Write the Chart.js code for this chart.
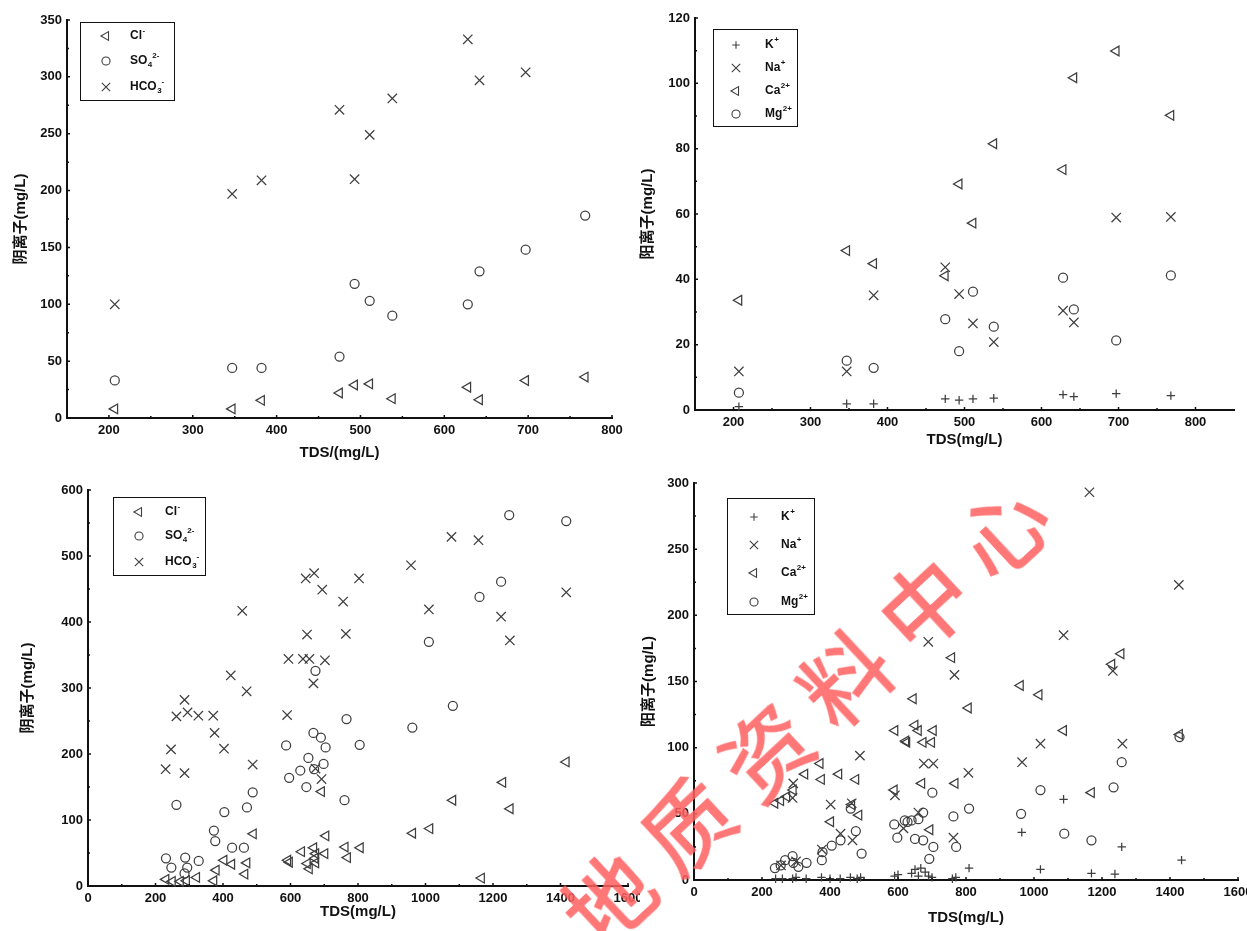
<!DOCTYPE html>
<html>
<head>
<meta charset="utf-8">
<title>TDS 与阴、阳离子关系图</title>
<script src="https://cdn.jsdelivr.net/npm/chart.js@4.4.1/dist/chart.umd.min.js"></script>
<style>
  html, body { margin: 0; padding: 0; background: #fff; }
  body { width: 1247px; height: 931px; position: relative; overflow: hidden; }
  canvas { position: absolute; }
  #wm {
    position: absolute; left: 475px; top: 655px; width: 670px; height: 100px;
    line-height: 100px; text-align: center; white-space: nowrap;
    font-family: 'Noto Sans CJK SC', sans-serif; font-size: 88px; font-weight: 500;
    letter-spacing: 20px; color: rgba(255, 95, 95, 0.85);
    transform: rotate(-43deg); pointer-events: none;
  }
</style>
</head>
<body>
<canvas id="c1" width="625" height="462" style="left:0;top:0"></canvas>
<canvas id="c2" width="617" height="462" style="left:630px;top:0"></canvas>
<canvas id="c3" width="640" height="461" style="left:0;top:470px"></canvas>
<canvas id="c4" width="607" height="466" style="left:640px;top:465px"></canvas>
<div id="wm">地质资料中心</div>
<script>
Chart.defaults.font.family = "'Liberation Sans', Arial, 'Noto Sans CJK SC', sans-serif";
Chart.defaults.color = '#111';

// ---- top row: 11 samples ----
const tdsTop = [207, 347, 382, 475, 493, 511, 538, 628, 642, 697, 768];
const clTop = [8, 8, 15.5, 22, 29, 30, 17, 27, 16, 33, 36];
const so4Top = [33, 44, 44, 54, 118, 103, 90, 100, 129, 148, 178];
const hco3Top = [100, 197, 209, 271, 210, 249, 281, 333, 297, 304, null];
const kTop = [1.0, 1.9, 1.9, 3.4, 3.0, 3.4, 3.6, 4.7, 4.1, 5.0, 4.4];
const naTop = [11.8, 11.8, 35.1, 43.7, 35.5, 26.5, 20.8, 30.4, 26.8, 58.9, 59.1];
const caTop = [33.6, 48.8, 44.8, 41.1, 69.2, 57.2, 81.5, 73.6, 101.7, 109.9, 90.2];
const mgTop = [5.3, 15.1, 12.9, 27.8, 18, 36.2, 25.5, 40.5, 30.8, 21.3, 41.2];

// ---- bottom left: anions ----
const clTds = [231, 250, 274, 292, 322, 373, 380, 403, 426, 465, 471, 490, 592, 597, 633, 650, 656, 669, 673, 675, 675, 702, 705, 692, 762, 769, 807, 962, 1013, 1081, 1166, 1229, 1251, 1417];
const clVal = [10, 7, 7, 8, 13, 8, 24, 39, 33, 18, 35, 79, 39, 36, 52, 34, 26, 58, 42, 35, 49, 49, 76, 143, 59, 43, 58, 80, 87, 130, 12, 157, 117, 188];
const so4Tds = [231, 247, 262, 288, 294, 286, 328, 373, 377, 404, 427, 462, 471, 488, 587, 596, 629, 647, 653, 668, 674, 690, 704, 698, 670, 766, 805, 760, 961, 1010, 1081, 1160, 1224, 1248, 1417];
const so4Val = [42, 28, 123, 43, 28, 19, 38, 84, 68, 112, 58, 58, 119, 142, 213, 164, 175, 150, 194, 232, 326, 225, 210, 185, 177, 253, 214, 130, 240, 370, 273, 438, 461, 562, 553];
const hco3Tds = [230, 246, 262, 286, 295, 286, 327, 371, 375, 403, 423, 457, 470, 488, 590, 594, 637, 656, 702, 645, 670, 694, 649, 668, 692, 674, 756, 764, 803, 957, 1010, 1077, 1157, 1224, 1250, 1417];
const hco3Val = [177, 207, 257, 282, 263, 171, 258, 258, 232, 208, 319, 417, 295, 184, 259, 344, 344, 344, 342, 466, 474, 449, 381, 307, 162, 178, 431, 382, 466, 486, 419, 529, 524, 408, 372, 445];

// ---- bottom right: cations ----
const kTds = [240, 260, 290, 300, 330, 375, 400, 430, 460, 480, 490, 590, 600, 640, 650, 660, 667, 680, 690, 700, 760, 770, 809, 964, 1019, 1087, 1169, 1238, 1258, 1434];
const kVal = [1, 1, 1, 2, 1, 2, 1, 1, 2, 1, 2, 3, 4, 5, 8, 3, 9, 6, 3, 2, 1, 2, 9, 36, 8, 61, 5, 4.5, 25, 15];
const naTds = [256, 292, 290, 300, 376, 402, 431, 464, 466, 488, 591, 616, 660, 676, 689, 704, 763, 766, 807, 965, 1019, 1087, 1163, 1232, 1260, 1426];
const naVal = [11, 73, 62, 14, 23, 57, 35, 58, 30, 94, 64, 39, 51, 88, 180, 88, 32, 155, 81, 89, 103, 185, 293, 158, 103, 223];
const caTds = [238, 255, 273, 292, 326, 371, 375, 426, 476, 464, 485, 402, 591, 623, 589, 645, 758, 807, 650, 660, 626, 674, 704, 699, 670, 768, 694, 960, 1015, 1087, 1169, 1229, 1256, 1428];
const caVal = [58, 60, 63, 68, 80, 88, 76, 80, 76, 57, 49, 44, 113, 105, 68, 137, 168, 130, 117, 113, 104, 104, 113, 104, 73, 73, 38, 147, 140, 113, 66, 163, 171, 110];
const mgTds = [238, 255, 268, 290, 292, 307, 331, 376, 378, 405, 431, 461, 476, 493, 589, 598, 628, 620, 640, 660, 674, 650, 674, 704, 701, 692, 763, 771, 809, 962, 1019, 1089, 1169, 1234, 1258, 1428];
const mgVal = [9, 11, 15, 18, 13, 10, 13, 15, 21, 26, 30, 54, 37, 20, 42, 32, 44, 45, 45, 46, 51, 31, 30, 25, 66, 16, 48, 25, 54, 50, 68, 35, 30, 70, 89, 108];

// ---- axis ticks ----
const xTicksTop1 = [200, 300, 400, 500, 600, 700, 800];
const xMinorTop1 = [250, 350, 450, 550, 650, 750];
const xTicksTop2 = [200, 300, 400, 500, 600, 700, 800];
const xMinorTop2 = [250, 350, 450, 550, 650, 750];
const xTicksBottom = [0, 200, 400, 600, 800, 1000, 1200, 1400, 1600];
const xMinorBottom = [100, 300, 500, 700, 900, 1100, 1300, 1500];
const yTicks1 = [0, 50, 100, 150, 200, 250, 300, 350];
const yMinor1 = [25, 75, 125, 175, 225, 275, 325];
const yTicks2 = [0, 20, 40, 60, 80, 100, 120];
const yMinor2 = [10, 30, 50, 70, 90, 110];
const yTicks3 = [0, 100, 200, 300, 400, 500, 600];
const yMinor3 = [50, 150, 250, 350, 450, 550];
const yTicks4 = [0, 50, 100, 150, 200, 250, 300];
const yMinor4 = [25, 75, 125, 175, 225, 275];

const anionNames = ['Cl^-', 'SO_4^2-', 'HCO_3^-'];
const cationNames = ['K^+', 'Na^+', 'Ca^2+', 'Mg^2+'];

const MARK = '#3e3e3e';
const INK = '#111';

function pts(xs, ys) {
  return xs.map((x, i) => ({ x: x, y: ys[i] })).filter(p => p.y != null);
}

const TRI = { pointStyle: 'triangle', pointRotation: -90, pointRadius: 5.6 };
const CIR = { pointStyle: 'circle', pointRadius: 4.5 };
const XX = { pointStyle: 'crossRot', pointRadius: 6.6 };
const PLUS = { pointStyle: 'cross', pointRadius: 4.2 };

function ds(label, data, st) {
  return Object.assign({
    label: label, data: data, borderColor: MARK, backgroundColor: 'rgba(0,0,0,0)',
    borderWidth: 1.25, pointBorderWidth: 1.25, clip: false
  }, st);
}

function axis(o) {
  return {
    type: 'linear', min: o.min, max: o.max,
    afterBuildTicks: s => {
      s.ticks = o.major.concat(o.minor).sort((a, b) => a - b).map(v => ({ value: v }));
    },
    afterFit: s => {
      if (o.horizontal) { s.height = o.size; s.paddingLeft = 0; s.paddingRight = 0; }
      else { s.width = o.size; s.paddingTop = 0; s.paddingBottom = 0; }
    },
    ticks: {
      autoSkip: false, maxRotation: 0, padding: 5, color: INK,
      font: { size: 13, weight: 'bold' },
      callback: v => o.major.includes(v) ? String(v) : ''
    },
    grid: { display: true, drawOnChartArea: false, drawTicks: false },
    border: { display: true, color: INK, width: 2 },
    title: { display: true, text: o.title, color: INK, font: { size: 15, weight: 'bold' }, padding: o.pad }
  };
}

// small tick marks pointing into the plot, as in the original figure
const innerTicks = {
  id: 'innerTicks',
  afterDraw(chart) {
    const ctx = chart.ctx, a = chart.chartArea;
    ctx.save();
    ctx.strokeStyle = INK;
    ctx.lineWidth = 1.5;
    ctx.beginPath();
    ['x', 'y'].forEach(id => {
      const s = chart.scales[id];
      s.ticks.forEach(t => {
        const len = t.label ? 3 : 2;
        const p = s.getPixelForValue(t.value);
        if (id === 'x') { ctx.moveTo(p, a.bottom); ctx.lineTo(p, a.bottom - len); }
        else { ctx.moveTo(a.left, p); ctx.lineTo(a.left + len, p); }
      });
    });
    ctx.stroke();
    ctx.restore();
  }
};

// legend drawn as a framed box like the original figure
function drawChem(ctx, name, x, y) {
  let base = name, sub = '', sup = '';
  const c = name.indexOf('^');
  if (c >= 0) { sup = name.slice(c + 1); base = name.slice(0, c); }
  const u = base.indexOf('_');
  if (u >= 0) { sub = base.slice(u + 1); base = base.slice(0, u); }
  ctx.textBaseline = 'middle';
  ctx.textAlign = 'left';
  ctx.font = "bold 12px 'Liberation Sans', Arial, sans-serif";
  ctx.fillText(base, x, y);
  x += ctx.measureText(base).width + 0.5;
  ctx.font = "bold 8px 'Liberation Sans', Arial, sans-serif";
  if (sub) { ctx.fillText(sub, x, y + 4); x += ctx.measureText(sub).width; }
  if (sup) { ctx.fillText(sup, x, y - 5); }
}

const legendBox = {
  id: 'legendBox',
  afterDatasetsDraw(chart, args, opts) {
    const ctx = chart.ctx;
    ctx.save();
    ctx.strokeStyle = INK;
    ctx.lineWidth = 1;
    ctx.strokeRect(opts.x + 0.5, opts.y + 0.5, opts.w, opts.h);
    chart.data.datasets.forEach((d, i) => {
      const y = opts.rows[i];
      ctx.strokeStyle = MARK;
      ctx.fillStyle = 'rgba(0,0,0,0)';
      ctx.lineWidth = 1.1;
      Chart.helpers.drawPoint(ctx, {
        pointStyle: d.pointStyle, rotation: d.pointRotation || 0,
        radius: d.pointRadius * 0.9, borderWidth: 1.1
      }, opts.symX, y);
      ctx.fillStyle = INK;
      drawChem(ctx, opts.names[i], opts.textX, y);
    });
    ctx.restore();
  }
};

function makeChart(id, datasets, o) {
  return new Chart(document.getElementById(id), {
    type: 'scatter',
    data: { datasets: datasets },
    plugins: [legendBox, innerTicks],
    options: {
      responsive: false, animation: false, events: [], devicePixelRatio: 1,
      layout: { padding: { top: o.padTop, right: o.padRight, left: 0, bottom: 0 } },
      plugins: { legend: { display: false }, tooltip: { enabled: false }, legendBox: o.legend },
      scales: { x: axis(o.x), y: axis(o.y) }
    }
  });
}

makeChart('c1', [
  ds('Cl⁻', pts(tdsTop, clTop), TRI),
  ds('SO₄²⁻', pts(tdsTop, so4Top), CIR),
  ds('HCO₃⁻', pts(tdsTop, hco3Top), XX)
], {
  padTop: 20, padRight: 13,
  x: { min: 150, max: 800, major: xTicksTop1, minor: xMinorTop1, horizontal: true, size: 44, title: 'TDS/(mg/L)', pad: { top: 0, bottom: 0 } },
  y: { min: 0, max: 350, major: yTicks1, minor: yMinor1, size: 67, title: '阴离子(mg/L)', pad: { top: 12, bottom: 0 } },
  legend: { x: 80, y: 22, w: 94, h: 78, symX: 106, textX: 130, rows: [36, 61, 87], names: anionNames }
});

makeChart('c2', [
  ds('K⁺', pts(tdsTop, kTop), PLUS),
  ds('Na⁺', pts(tdsTop, naTop), XX),
  ds('Ca²⁺', pts(tdsTop, caTop), TRI),
  ds('Mg²⁺', pts(tdsTop, mgTop), CIR)
], {
  padTop: 18, padRight: 13,
  x: { min: 150, max: 850, major: xTicksTop2, minor: xMinorTop2, horizontal: true, size: 52, title: 'TDS(mg/L)', pad: { top: 0, bottom: 13 } },
  y: { min: 0, max: 120, major: yTicks2, minor: yMinor2, size: 65, title: '阳离子(mg/L)', pad: { top: 9, bottom: 0 } },
  legend: { x: 83, y: 29, w: 84, h: 97, symX: 106, textX: 135, rows: [45, 68, 91, 114], names: cationNames }
});

makeChart('c3', [
  ds('Cl⁻', pts(clTds, clVal), TRI),
  ds('SO₄²⁻', pts(so4Tds, so4Val), CIR),
  ds('HCO₃⁻', pts(hco3Tds, hco3Val), XX)
], {
  padTop: 20, padRight: 12,
  x: { min: 0, max: 1600, major: xTicksBottom, minor: xMinorBottom, horizontal: true, size: 45, title: 'TDS(mg/L)', pad: { top: 0, bottom: 10 } },
  y: { min: 0, max: 600, major: yTicks3, minor: yMinor3, size: 88, title: '阴离子(mg/L)', pad: { top: 19, bottom: 0 } },
  legend: { x: 113, y: 27, w: 92, h: 78, symX: 139, textX: 165, rows: [42, 66, 92], names: anionNames }
});

makeChart('c4', [
  ds('K⁺', pts(kTds, kVal), PLUS),
  ds('Na⁺', pts(naTds, naVal), XX),
  ds('Ca²⁺', pts(caTds, caVal), TRI),
  ds('Mg²⁺', pts(mgTds, mgVal), CIR)
], {
  padTop: 18, padRight: 9,
  x: { min: 0, max: 1600, major: xTicksBottom, minor: xMinorBottom, horizontal: true, size: 51, title: 'TDS(mg/L)', pad: { top: 0, bottom: 4 } },
  y: { min: 0, max: 300, major: yTicks4, minor: yMinor4, size: 54, title: '阳离子(mg/L)', pad: { top: 0, bottom: 0 } },
  legend: { x: 87, y: 33, w: 87, h: 116, symX: 114, textX: 141, rows: [52, 80, 108, 137], names: cationNames }
});
</script>
</body>
</html>
